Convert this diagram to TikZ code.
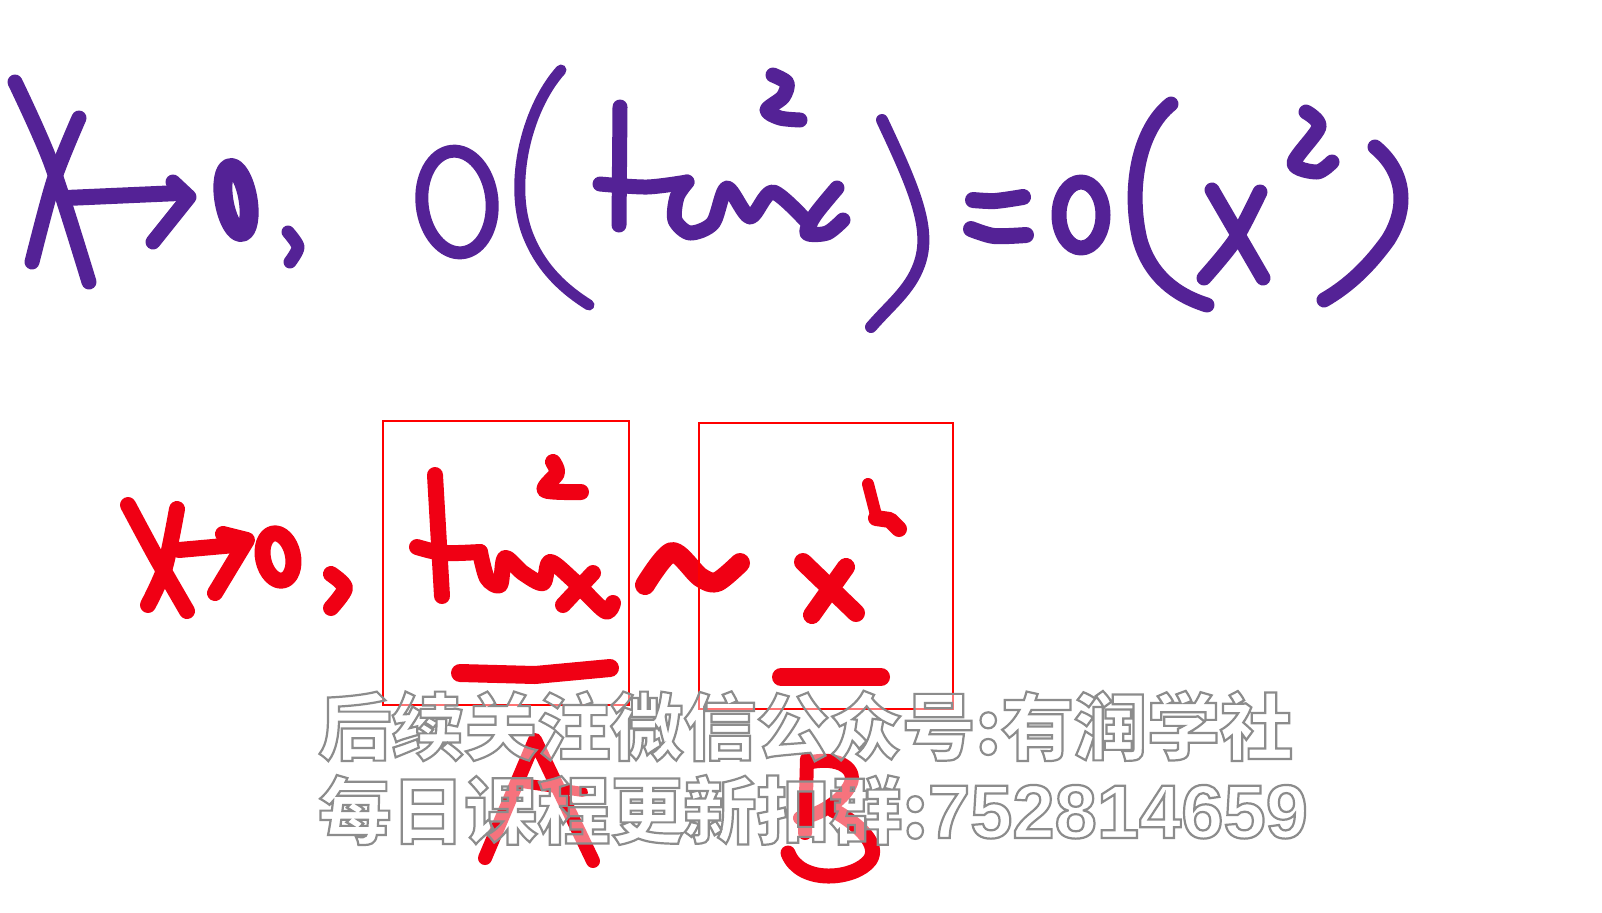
\documentclass[tikz,border=0pt]{standalone}
\usepackage{fontspec}
\newfontfamily\cjk{Noto Sans CJK SC Black}
\newfontfamily\digitfont{Liberation Sans}[Scale=1.04]
\definecolor{inkpurple}{RGB}{84,34,150}
\definecolor{inkred}{RGB}{240,0,20}
\tikzset{
  purplepen/.style={draw=inkpurple,line cap=round,line join=round,line width=7.5pt},
  redpen/.style={draw=inkred,line cap=round,line join=round,line width=8pt},
  markbox/.style={draw=red,line width=.9pt},
  watermark/.style={anchor=west,inner sep=0pt,fill opacity=.45,font=\cjk\fontsize{36.5}{40}\selectfont}
}
\newcommand{\outlined}[1]{\special{pdf:literal direct q 2 Tr 1.1 w 0.55 G 1 g}#1\special{pdf:literal direct Q}}
\begin{document}
\begin{tikzpicture}[x=.5pt,y=-.5pt]
\fill[white] (0,0) rectangle (1602,912);
\useasboundingbox (0,0) rectangle (1602,912);
% first line
\draw[purplepen] plot[smooth] coordinates {(15,82) (51,163) (89,282)};
\draw[purplepen] plot[smooth] coordinates {(79,118) (54,180) (32,262)};
\draw[purplepen,line width=8pt] (66,198) -- (179,193);
\draw[purplepen,line width=7.5pt] (173,182) -- (189,197) -- (153,242);
\draw[purplepen,line width=9.5pt,rotate around={10:(236,200)}] (236,200) ellipse [x radius=12,y radius=33];
\draw[purplepen,line width=6.5pt] plot[smooth] coordinates {(288,232) (298,247) (290,262)};
\draw[purplepen,line width=6.5pt,rotate around={6:(457,202)}] (457,202) ellipse [x radius=35,y radius=51];
\draw[purplepen,line width=5.5pt] (561,70) .. controls (525,110) and (507,190) .. (530,240) .. controls (543,270) and (565,290) .. (589,305);
\draw[purplepen] (620,107) -- (619,225);
\draw[purplepen] plot[smooth] coordinates {(600,184) (647,187) (687,182)};
\draw[purplepen] plot[smooth] coordinates {(687,182) (677,197) (675,220) (690,233) (713,223) (727,188) (750,217) (773,192) (810,225)};
\draw[purplepen] plot[smooth] coordinates {(837,188) (815,215) (807,233) (827,233) (843,220)};
\draw[purplepen] plot[smooth] coordinates {(773,75) (787,83) (783,97) (767,110) (780,118) (800,120)};
\draw[purplepen,line width=6pt] (882,120) .. controls (915,190) and (932,230) .. (919,265) .. controls (910,290) and (890,305) .. (871,327);
\draw[purplepen,line width=8pt] plot[smooth] coordinates {(973,200) (995,201) (1023,197)};
\draw[purplepen,line width=8pt] plot[smooth] coordinates {(971,229) (994,236) (1026,235)};
\draw[purplepen] (1081,215) ellipse [x radius=22,y radius=33];
\draw[purplepen] (1171,104) .. controls (1138,130) and (1128,190) .. (1140,240) .. controls (1150,275) and (1175,295) .. (1207,305);
\draw[purplepen] (1212,190) -- (1263,278);
\draw[purplepen] plot[smooth] coordinates {(1260,192) (1235,240) (1204,278)};
\draw[purplepen] plot[smooth] coordinates {(1306,112) (1319,127) (1294,163) (1317,172) (1332,162)};
\draw[purplepen] (1375,147) .. controls (1403,170) and (1410,205) .. (1388,240) .. controls (1370,265) and (1350,285) .. (1324,300);
% second line
\draw[redpen] plot[smooth] coordinates {(128,505) (156,557) (187,611)};
\draw[redpen] plot[smooth] coordinates {(177,509) (165,567) (148,605)};
\draw[redpen] (179,550) -- (235,545);
\draw[redpen] (223,534) -- (247,540) -- (215,593);
\draw[redpen,rotate around={12:(278,557)}] (278,557) ellipse [x radius=15,y radius=24];
\draw[redpen] plot[smooth] coordinates {(331,574) (345,588) (331,608)};
\draw[redpen] (435,475) -- (442,596);
\draw[redpen] plot[smooth] coordinates {(417,547) (443,553) (480,552)};
\draw[redpen] plot[smooth] coordinates {(480,552) (487,578) (500,585) (505,558) (523,573) (543,583) (550,562) (573,580) (605,611) (613,603)};
\draw[redpen] plot[smooth] coordinates {(593,573) (563,605)};
\draw[redpen] plot[smooth] coordinates {(553,462) (557,473) (545,490) (581,492)};
\draw[redpen,line width=9pt] (460,673) -- (535,675) -- (610,668);
\draw[redpen,line width=10pt] plot[smooth] coordinates {(645,585) (672,552) (700,577) (717,582) (740,563)};
\draw[redpen,line width=9pt] (803,562) -- (856,613);
\draw[redpen,line width=9pt] (846,567) -- (812,615);
\draw[redpen,line width=6pt] (868,484) -- (876,515);
\draw[redpen,line width=8pt] (876,518) -- (890,520) -- (899,529);
\draw[redpen,line width=9pt] (781,677) -- (881,677);
\draw[markbox] (383,421) rectangle (629,705);
\draw[markbox] (699,423) rectangle (953,709);
% letters under the watermark
\draw[redpen,line width=7pt] (485,858) -- (535,740) -- (593,861);
\draw[redpen,line width=5pt] (522,783) -- (583,792);
\draw[redpen,line width=7pt] (807,759) -- (805,833);
\draw[redpen,line width=7pt] (807,763) .. controls (840,755) and (858,770) .. (850,785) .. controls (843,800) and (820,815) .. (800,818);
\draw[redpen,line width=7.5pt] (833,810) .. controls (860,825) and (880,845) .. (870,860) .. controls (855,880) and (800,885) .. (788,853);
\node[watermark] (line1) at (318,726) {\outlined{后续关注微信公众号:有润学社}};
\node[watermark] (line2) at (318,810) {\outlined{每日课程更新扣群:{\digitfont\bfseries 752814659}}};
\end{tikzpicture}
\end{document}
